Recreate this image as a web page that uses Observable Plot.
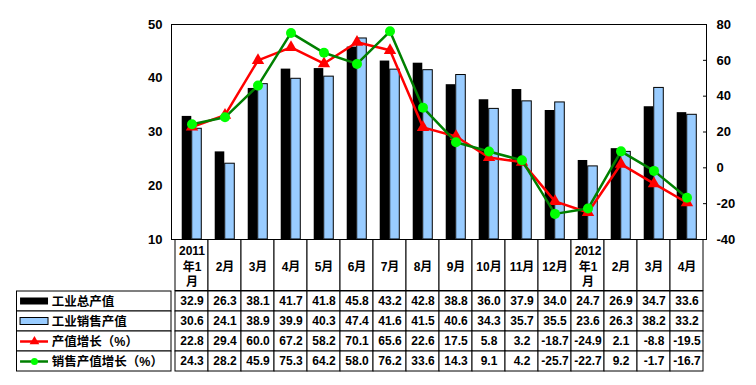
<!DOCTYPE html>
<html><head><meta charset="utf-8">
<script src="https://cdn.jsdelivr.net/npm/d3@7"></script>
<script src="https://cdn.jsdelivr.net/npm/@observablehq/plot@0.6"></script>
<style>
body{margin:0;background:#fff;}
#c{position:relative;width:756px;height:385px;overflow:hidden;background:#fff;}
#c svg{position:absolute;left:0;overflow:visible;}
</style></head><body><div id="c"></div>
<script>
// ---- data ----
const months = ["2011-01","2011-02","2011-03","2011-04","2011-05","2011-06","2011-07","2011-08","2011-09","2011-10","2011-11","2011-12","2012-01","2012-02","2012-03","2012-04"];
const monthLabels = ["2011\n年1\n月","2月","3月","4月","5月","6月","7月","8月","9月","10月","11月","12月","2012\n年1\n月","2月","3月","4月"];
const seriesNames = ["工业总产值","工业销售产值","产值增长（%）","销售产值增长（%）"];
const totalOutput = [32.9, 26.3, 38.1, 41.7, 41.8, 45.8, 43.2, 42.8, 38.8, 36.0, 37.9, 34.0, 24.7, 26.9, 34.7, 33.6];
const salesOutput = [30.6, 24.1, 38.9, 39.9, 40.3, 47.4, 41.6, 41.5, 40.6, 34.3, 35.7, 35.5, 23.6, 26.3, 38.2, 33.2];
const outputGrowth = [22.8, 29.4, 60.0, 67.2, 58.2, 70.1, 65.6, 22.6, 17.5, 5.8, 3.2, -18.7, -24.9, 2.1, -8.8, -19.5];
const salesGrowth = [24.3, 28.2, 45.9, 75.3, 64.2, 58.0, 76.2, 33.6, 14.3, 9.1, 4.2, -25.7, -22.7, 9.2, -1.7, -16.7];
const leftTicks = [10, 20, 30, 40, 50];
const rightTicks = [-40, -20, 0, 20, 40, 60, 80];

// ---- layout ----
const W = 756, ML = 171, MR = 50;
const FONT = '"Liberation Sans","Noto Sans CJK SC",sans-serif';
const baseStyle = {fontFamily: FONT, fontSize: "12px", fontWeight: "bold", color: "black", background: "transparent", overflow: "visible"};
const bw = (W - ML - MR) / months.length;
const y2 = d3.scaleLinear().domain([rightTicks[0], rightTicks[rightTicks.length-1]]).range([leftTicks[0], leftTicks[leftTicks.length-1]]);

const rows = months.map((m, i) => ({m, total: totalOutput[i], sales: salesOutput[i], og: outputGrowth[i], sg: salesGrowth[i]}));
const series = [totalOutput, salesOutput, outputGrowth, salesGrowth];
const cells = [];
series.forEach((arr, s) => arr.forEach((v, i) => cells.push({m: months[i], s: seriesNames[s], v})));

const container = document.getElementById("c");
function place(svg, top) { svg.style.top = top + "px"; container.appendChild(svg); }

// ---- chart ----
const chart = Plot.plot({
  width: W, height: 240, marginTop: 24, marginBottom: 1, marginLeft: ML, marginRight: MR,
  style: baseStyle,
  x: {type: "band", domain: months, padding: 0, axis: null},
  y: {domain: [leftTicks[0], leftTicks[leftTicks.length-1]], axis: null},
  marks: [
    Plot.barY(rows, {x: "m", y1: leftTicks[0], y2: "total", fill: "black", insetLeft: bw/2 - 10, insetRight: bw/2}),
    Plot.barY(rows, {x: "m", y1: leftTicks[0], y2: "sales", fill: "#99CCFF", stroke: "black", strokeWidth: 1, insetLeft: bw/2, insetRight: bw/2 - 10}),
    Plot.frame({stroke: "black"}),
    Plot.axisY({ticks: leftTicks, tickSize: 0, tickPadding: 9, fontSize: 13, fontWeight: "bold"}),
    Plot.axisY({anchor: "right", ticks: rightTicks.map(v => y2(v)), tickFormat: v => String(Math.round(y2.invert(v))), tickSize: 4, tickPadding: 10, dx: -4, fontSize: 13, fontWeight: "bold"}),
    Plot.line(rows, {x: "m", y: d => y2(d.og), stroke: "#FF0000", strokeWidth: 2.5}),
    Plot.dot(rows, {x: "m", y: d => y2(d.og), symbol: "triangle", r: 4.6, fill: "#FF0000"}),
    Plot.line(rows, {x: "m", y: d => y2(d.sg), stroke: "#008000", strokeWidth: 2.5}),
    Plot.dot(rows, {x: "m", y: d => y2(d.sg), r: 5, fill: "#00FF00"})
  ]
});
place(chart, 0);

// ---- table header ----
const header = Plot.plot({
  width: W, height: 52, marginTop: 0.5, marginBottom: 0.5, marginLeft: ML, marginRight: MR,
  style: baseStyle,
  x: {type: "band", domain: months, padding: 0, axis: null},
  marks: [
    Plot.cell(months, {x: d => d, stroke: "black", fill: "white", inset: 0}),
    Plot.text(months, {x: d => d, text: (d, i) => monthLabels[i], frameAnchor: "middle", lineHeight: 1.3, fontSize: 12, fontWeight: "bold"})
  ]
});
place(header, 239);

// ---- table body: label column ----
const legendCol = Plot.plot({
  width: ML, height: 81, marginTop: 0.5, marginBottom: 0.5, marginLeft: 16.5, marginRight: 0,
  style: baseStyle,
  x: {domain: [0, 1], axis: null},
  y: {type: "band", domain: seriesNames, padding: 0, axis: null},
  marks: [
    Plot.cell(seriesNames, {y: d => d, stroke: "black", fill: "white", inset: 0}),
    Plot.barX([seriesNames[0]], {y: d => d, x1: 0.023, x2: 0.204, fill: "black", insetTop: 6.5, insetBottom: 6.5}),
    Plot.barX([seriesNames[1]], {y: d => d, x1: 0.023, x2: 0.204, fill: "#99CCFF", stroke: "black", insetTop: 6.5, insetBottom: 6.5}),
    Plot.ruleY([seriesNames[2]], {y: d => d, x1: 0.023, x2: 0.204, stroke: "#FF0000", strokeWidth: 2.5}),
    Plot.dot([seriesNames[2]], {y: d => d, x: 0.113, symbol: "triangle", r: 3.6, fill: "#FF0000"}),
    Plot.ruleY([seriesNames[3]], {y: d => d, x1: 0.023, x2: 0.204, stroke: "#008000", strokeWidth: 2.5}),
    Plot.dot([seriesNames[3]], {y: d => d, x: 0.113, r: 3.5, fill: "#00FF00"}),
    Plot.text(seriesNames, {y: d => d, x: 0.225, text: d => d, textAnchor: "start", fontSize: 12.5, fontWeight: "bold"})
  ]
});
place(legendCol, 290);

// ---- table body: values ----
const values = Plot.plot({
  width: W - ML, height: 81, marginTop: 0.5, marginBottom: 0.5, marginLeft: 0, marginRight: MR,
  style: baseStyle,
  x: {type: "band", domain: months, padding: 0, axis: null},
  y: {type: "band", domain: seriesNames, padding: 0, axis: null},
  marks: [
    Plot.cell(cells, {x: "m", y: "s", stroke: "black", fill: "white", inset: 0}),
    Plot.text(cells, {x: "m", y: "s", text: d => d.v.toFixed(1), fontSize: 12, fontWeight: "bold"})
  ]
});
values.style.left = ML + "px";
place(values, 290);
</script></body></html>
